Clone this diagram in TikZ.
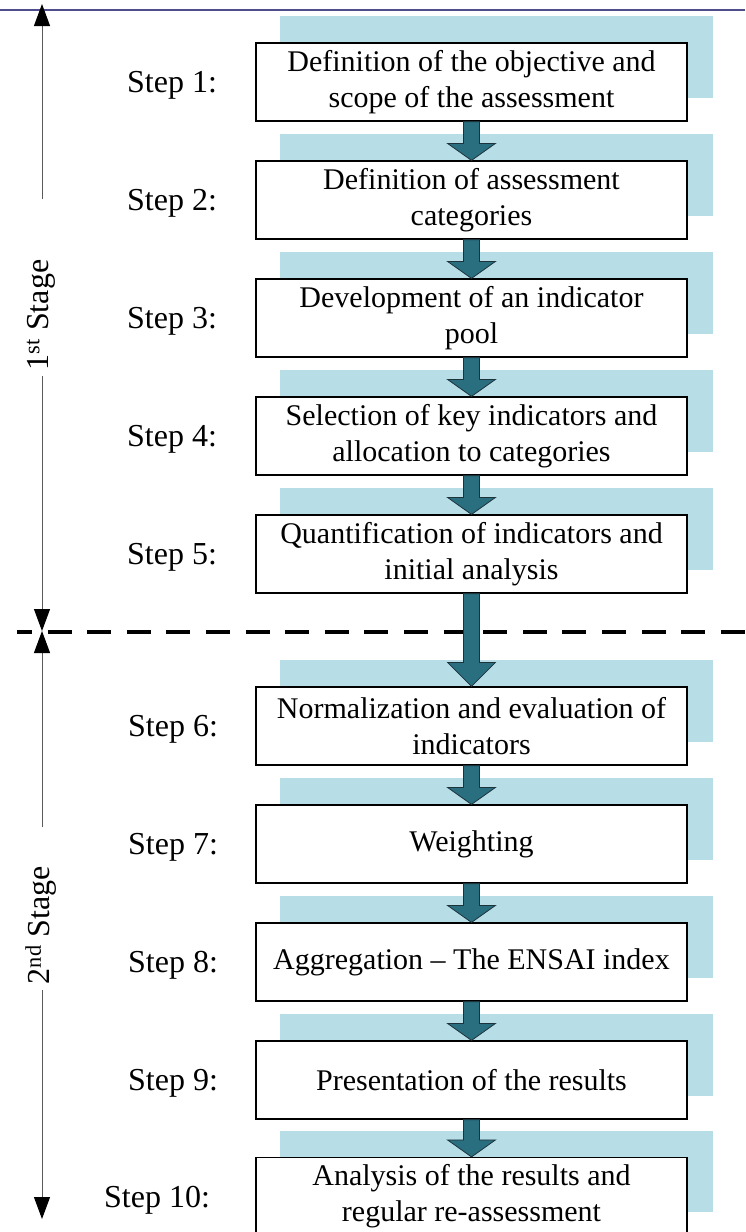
\documentclass[tikz,border=0pt]{standalone}
\usepackage{fontspec}
\setmainfont{Liberation Serif}
\usetikzlibrary{calc,arrows.meta,backgrounds}
\definecolor{shadowblue}{RGB}{183,222,230}
\definecolor{arrowteal}{RGB}{42,111,128}
\definecolor{arrowedge}{RGB}{30,50,60}
\definecolor{toplinecol}{RGB}{78,78,140}
\definecolor{axisgray}{RGB}{90,90,90}
\begin{document}
\begin{tikzpicture}[x=1pt,y=-1pt,
  stepbox/.style={draw=black, line width=1.2pt, fill=white, minimum width=431pt, minimum height=78pt, inner sep=0pt, align=center, font=\fontsize{30}{36}\selectfont},
  steplabel/.style={anchor=base west, inner sep=0pt, font=\fontsize{32}{38}\selectfont},
  stagelabel/.style={rotate=90, inner sep=0pt, font=\fontsize{32}{38}\selectfont},
  shadowrect/.style={fill=shadowblue},
  blockarrow/.style={fill=arrowteal, draw=arrowedge, line width=0.8pt, line join=miter},
  stageaxis/.style={draw=axisgray, line width=1pt},
  axistip/.style={-{Triangle[width=16pt,length=22pt,color=black,fill=black]}},
  sepline/.style={line width=3.2pt, dash pattern=on 24pt off 15.6pt, dash phase=9pt},
  topbar/.style={draw=toplinecol, line width=2pt},
]
\useasboundingbox (0,0) rectangle (745,1232);
\clip (0,0) rectangle (745,1232);

% top bar
\coordinate (tl) at (0,10);
\coordinate (tr) at (745,10);
\draw[topbar] (tl) -- (tr);

% step boxes
\node[stepbox] (s1) at (471.5,82) {Definition of the objective and\\scope of the assessment};
\node[stepbox] (s2) at (471.5,200) {Definition of assessment\\categories};
\node[stepbox] (s3) at (471.5,318) {Development of an indicator\\pool};
\node[stepbox] (s4) at (471.5,436) {Selection of key indicators and\\allocation to categories};
\node[stepbox] (s5) at (471.5,554) {Quantification of indicators and\\initial analysis};
\node[stepbox] (s6) at (471.5,726) {Normalization and evaluation of\\indicators};
\node[stepbox] (s7) at (471.5,844) {Weighting};
\node[stepbox] (s8) at (471.5,962) {Aggregation -- The ENSAI index};
\node[stepbox] (s9) at (471.5,1080) {Presentation of the results};
\node[stepbox] (s10) at (471.5,1196.5) {Analysis of the results and\\regular re-assessment};

% shadows
\begin{scope}[on background layer]
\foreach \i in {1,...,10}
  \fill[shadowrect] ($(s\i.south west)+(25,-24)$) rectangle ($(s\i.north east)+(25,-26)$);
\end{scope}

% step labels
\node[steplabel] (l1) at (127,92.5) {Step 1:};
\node[steplabel] (l2) at (127,210.5) {Step 2:};
\node[steplabel] (l3) at (127,328.5) {Step 3:};
\node[steplabel] (l4) at (127,446.5) {Step 4:};
\node[steplabel] (l5) at (127,564.5) {Step 5:};
\node[steplabel] (l6) at (128,736.5) {Step 6:};
\node[steplabel] (l7) at (128,854.5) {Step 7:};
\node[steplabel] (l8) at (128,972.5) {Step 8:};
\node[steplabel] (l9) at (128,1090.5) {Step 9:};
\node[steplabel] (l10) at (104,1207) {Step 10:};

% stage separator
\coordinate (dl) at (17,632);
\coordinate (dr) at (745,632);
\draw[sepline] (dl) -- (dr);

% block arrows
\foreach \a/\b/\h in {1/2/17,2/3/17,3/4/17,4/5/17,5/6/24,6/7/17,7/8/17,8/9/17,9/10/17}
  \filldraw[blockarrow] ($(s\a.south)+(-8,0)$) -- ($(s\b.north)+(-8,-\h)$) -- ($(s\b.north)+(-24,-\h)$) -- (s\b.north) -- ($(s\b.north)+(24,-\h)$) -- ($(s\b.north)+(8,-\h)$) -- ($(s\a.south)+(8,0)$) -- cycle;

% stage axis
\coordinate (ax1top) at (42,4);
\coordinate (ax1gap) at (42,199);
\coordinate (ax1res) at (42,376);
\coordinate (axmid) at (42,631);
\coordinate (ax2gap) at (42,827);
\coordinate (ax2res) at (42,990);
\coordinate (ax2bot) at (42,1219);
\draw[stageaxis, axistip] (ax1gap) -- (ax1top);
\draw[stageaxis, axistip] (ax1res) -- (axmid);
\draw[stageaxis, axistip] (ax2gap) -- (axmid);
\draw[stageaxis, axistip] (ax2res) -- (ax2bot);

% stage labels
\node[stagelabel] (st1) at (41,315) {1\textsuperscript{st} Stage};
\node[stagelabel] (st2) at (41,925) {2\textsuperscript{nd} Stage};
\end{tikzpicture}
\end{document}
